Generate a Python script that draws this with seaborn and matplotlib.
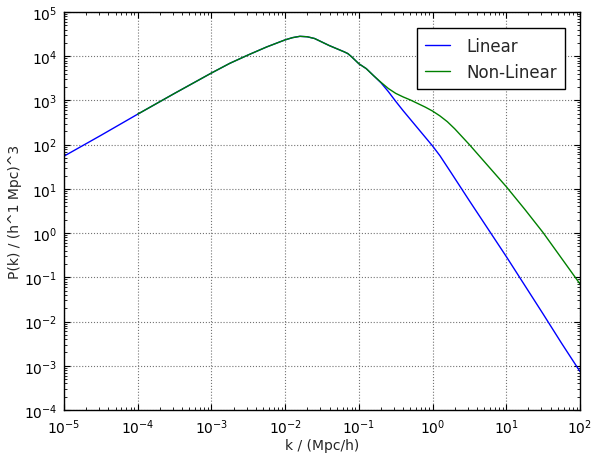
import numpy as np
import pandas as pd
import matplotlib
matplotlib.use("Agg")
import matplotlib.pyplot as plt
import seaborn as sns

# Read-off values (log10 k, log10 P)
lin_logk = [-5.0, -4.5, -4.0, -3.5, -3.0, -2.75, -2.5, -2.25, -2.0, -1.9, -1.8, -1.7,
            -1.6, -1.5, -1.4, -1.3, -1.2, -1.15, -1.1, -1.0, -0.9, -0.8, -0.7, -0.6,
            -0.5, -0.4, -0.25, -0.1, 0.0, 0.1, 0.25, 0.5, 0.75, 1.0, 1.25, 1.5, 1.75, 2.0]
lin_logP = [1.74, 2.21, 2.69, 3.16, 3.62, 3.84, 4.03, 4.21, 4.37, 4.42, 4.45, 4.44,
            4.40, 4.32, 4.24, 4.17, 4.10, 4.06, 3.99, 3.83, 3.72, 3.56, 3.40, 3.20,
            2.98, 2.77, 2.47, 2.17, 1.97, 1.75, 1.37, 0.73, 0.10, -0.53, -1.18, -1.83, -2.49, -3.13]

nl_logk = [-4.0, -3.5, -3.0, -2.75, -2.5, -2.25, -2.0, -1.9, -1.8, -1.7,
           -1.6, -1.5, -1.4, -1.3, -1.2, -1.15, -1.1, -1.0, -0.9, -0.8, -0.7, -0.6,
           -0.5, -0.4, -0.3, -0.2, -0.1, 0.0, 0.1, 0.2, 0.3, 0.4, 0.5, 0.6, 0.7,
           0.8, 0.9, 1.0, 1.25, 1.5, 1.75, 2.0]
nl_logP = [2.69, 3.16, 3.62, 3.84, 4.03, 4.21, 4.37, 4.42, 4.45, 4.44,
           4.40, 4.32, 4.24, 4.17, 4.10, 4.06, 3.99, 3.83, 3.72, 3.56, 3.41, 3.27,
           3.16, 3.08, 3.01, 2.93, 2.85, 2.76, 2.65, 2.52, 2.36, 2.18, 2.00, 1.81, 1.62,
           1.43, 1.24, 1.05, 0.54, 0.01, -0.57, -1.15]

labels = ["Linear", "Non-Linear"]
colors = ["#0000ff", "#008000"]

df = pd.concat([
    pd.DataFrame({"k": 10.0 ** np.array(lin_logk), "P": 10.0 ** np.array(lin_logP), "model": labels[0]}),
    pd.DataFrame({"k": 10.0 ** np.array(nl_logk), "P": 10.0 ** np.array(nl_logP), "model": labels[1]}),
], ignore_index=True)

sns.set_style("ticks")
plt.rcParams.update({
    "font.family": ["DejaVu Sans"],
    "xtick.direction": "in", "ytick.direction": "in",
    "xtick.top": True, "ytick.right": True,
    "xtick.major.size": 4, "ytick.major.size": 4,
    "xtick.minor.size": 2, "ytick.minor.size": 2,
    "axes.edgecolor": "black", "axes.linewidth": 1.0,
    "xtick.color": "black", "ytick.color": "black",
    "mathtext.default": "regular",
})

fig = plt.figure(figsize=(5.94, 4.56), dpi=100)
ax = fig.add_axes([64 / 594, 45 / 456, 516 / 594, 398 / 456])

sns.lineplot(data=df, x="k", y="P", hue="model", hue_order=labels,
             palette=dict(zip(labels, colors)), estimator=None, sort=True,
             linewidth=1.0, ax=ax)

ax.set_xscale("log")
ax.set_yscale("log")
ax.set_xlim(1e-5, 1e2)
ax.set_ylim(1e-4, 1e5)
ax.grid(True, which="major", linestyle=":", color="0.45", linewidth=0.8)
ax.tick_params(which="both", direction="in", top=True, right=True, labelsize=10, pad=5)
ax.set_xlabel("k / (Mpc/h)", fontsize=10, labelpad=2)
ax.set_ylabel("P(k) / (h^1 Mpc)^3", fontsize=10, labelpad=1)

leg = ax.legend(loc="upper right", fontsize=12, frameon=True, fancybox=False,
                edgecolor="black", framealpha=1.0, handlelength=1.5,
                handletextpad=1.0, borderpad=0.5, bbox_to_anchor=(0.988, 0.98))
leg.get_frame().set_linewidth(1.0)

fig.savefig("out.png", dpi=100)
